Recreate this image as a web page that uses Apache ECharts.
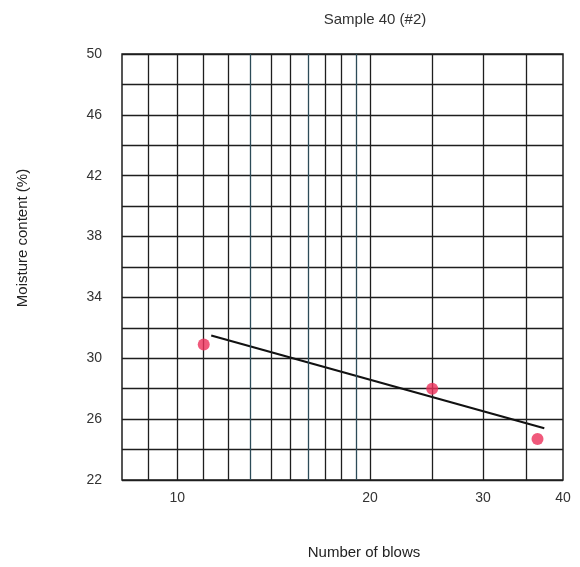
<!DOCTYPE html>
<html>
<head>
<meta charset="utf-8">
<script src="https://cdn.jsdelivr.net/npm/echarts@6/dist/echarts.min.js"></script>
<style>
  html, body { margin: 0; padding: 0; background: #fff; }
  #chart { width: 580px; height: 567px; }
</style>
</head>
<body>
<div id="chart"></div>
<script>
// Liquid limit test: moisture content vs. number of blows (log scale)
const blows = [11, 25, 36.5];
const moisture = [30.9, 28.0, 24.7];

// Fitted flow line end points
const fitBlows = [11.3, 37.4];
const fitMoisture = [31.5, 25.4];

// Semi-log paper rulings and labels
const gridBlows = [9, 10, 11, 12, 13, 14, 15, 16, 17, 18, 19, 20, 25, 30, 35];
const tintedBlows = [13, 16, 19];
const xTickLabels = [10, 20, 30, 40];

const ink = '#1e1e1e';
const font = 'Liberation Sans';
const chart = echarts.init(document.getElementById('chart'));

chart.setOption({
  animation: false,
  backgroundColor: '#ffffff',
  title: {
    text: 'Sample 40 (#2)',
    left: 370,
    top: 7,
    textAlign: 'center',
    textStyle: { fontFamily: font, fontSize: 15, fontWeight: 'normal', color: '#333' }
  },
  grid: {
    left: 122, right: 17, top: 54, bottom: 87,
    show: true, borderColor: ink, borderWidth: 1.5, backgroundColor: 'transparent'
  },
  xAxis: {
    type: 'log',
    logBase: 10,
    min: 8.2,
    max: 40,
    name: 'Number of blows',
    nameLocation: 'middle',
    nameGap: 65,
    nameTextStyle: { fontFamily: font, fontSize: 15, color: '#222', padding: [0, 0, 0, 43] },
    axisLine: { show: false },
    axisTick: { show: false },
    splitLine: { show: false },
    minorSplitLine: { show: false },
    axisLabel: {
      customValues: xTickLabels,
      margin: 11,
      fontFamily: font, fontSize: 14, color: '#333'
    }
  },
  yAxis: {
    type: 'value',
    min: 22,
    max: 50,
    interval: 2,
    name: 'Moisture content (%)',
    nameLocation: 'middle',
    nameGap: 92,
    nameTextStyle: { fontFamily: font, fontSize: 15, color: '#222', padding: [0, 0, 0, 58] },
    axisLine: { show: false },
    axisTick: { show: false },
    splitLine: { show: true, lineStyle: { color: ink, width: 1.4 } },
    axisLabel: {
      margin: 20,
      fontFamily: font, fontSize: 14, color: '#333',
      formatter: v => ((v - 22) % 4 === 0 ? String(v) : '')
    }
  },
  series: [
    {
      name: 'Flow line',
      type: 'line',
      data: fitBlows.map((b, i) => [b, fitMoisture[i]]),
      showSymbol: false,
      lineStyle: { color: '#111', width: 2.2 },
      z: 4,
      markLine: {
        silent: true,
        symbol: 'none',
        label: { show: false },
        animation: false,
        data: gridBlows.map(b => ({
          xAxis: b,
          lineStyle: {
            type: 'solid',
            width: 1.3,
            color: tintedBlows.includes(b) ? '#2c4b58' : ink
          }
        }))
      }
    },
    {
      name: 'Tests',
      type: 'scatter',
      data: blows.map((b, i) => [b, moisture[i]]),
      symbol: 'circle',
      symbolSize: 12,
      itemStyle: { color: '#ec2f5a' },
      z: 5
    }
  ]
});
</script>
</body>
</html>
